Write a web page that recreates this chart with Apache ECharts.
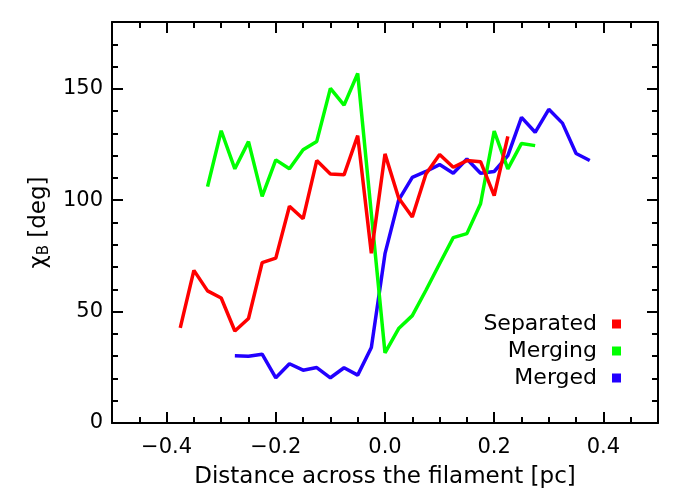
<!DOCTYPE html>
<html lang="en">
<head>
    <meta charset="UTF-8">
    <title>Field angle across the filament</title>
    <script type="text/javascript" src="https://cdnjs.cloudflare.com/ajax/libs/echarts/6.0.0/echarts.min.js"></script>
</head>
<body style="margin: 0">
    <div id="main" style="width: 700px; height: 500px"></div>
    <script>
        // distance across the filament [pc] and chi_B [deg] per case
        var sepX = [-0.375, -0.35, -0.325, -0.3, -0.275, -0.25, -0.225, -0.2, -0.175, -0.15, -0.125, -0.1, -0.075,
            -0.05, -0.025, 0.0, 0.025, 0.05, 0.075, 0.1, 0.125, 0.15, 0.175, 0.2, 0.225];
        var sepY = [42.7, 68.5, 59.3, 56.1, 41.3, 46.9, 72.0, 74.0, 97.3, 91.7, 117.8, 111.8, 111.4,
            129.0, 76.2, 120.8, 101.0, 92.5, 111.8, 120.5, 114.8, 117.8, 117.3, 102.1, 128.7];

        var mrgX = [-0.325, -0.3, -0.275, -0.25, -0.225, -0.2, -0.175, -0.15, -0.125, -0.1, -0.075, -0.05, -0.025,
            0.0, 0.025, 0.05, 0.075, 0.1, 0.125, 0.15, 0.175, 0.2, 0.225, 0.25, 0.275];
        var mrgY = [106.1, 131.2, 114.1, 126.3, 101.7, 118.1, 114.1, 122.7, 126.4, 150.2, 142.7, 156.9, 94.0,
            31.5, 42.4, 48.2, 59.6, 71.5, 83.2, 85.0, 98.4, 131.0, 114.1, 125.5, 124.5];

        var mgdX = [-0.275, -0.25, -0.225, -0.2, -0.175, -0.15, -0.125, -0.1, -0.075, -0.05, -0.025, 0.0, 0.025,
            0.05, 0.075, 0.1, 0.125, 0.15, 0.175, 0.2, 0.225, 0.25, 0.275, 0.3, 0.325, 0.35, 0.375];
        var mgdY = [30.2, 30.0, 30.9, 20.3, 26.6, 23.7, 24.9, 20.3, 24.8, 21.5, 33.9, 76.0, 100.0,
            110.3, 112.9, 116.0, 112.1, 118.5, 112.1, 112.9, 120.0, 137.2, 130.5, 140.8, 134.6, 121.0, 117.8];

        var xMajor = [-0.4, -0.2, 0, 0.2, 0.4];
        var yMajor = [0, 50, 100, 150];

        function pairs(xs, ys) {
            return xs.map(function (x, i) { return [x, ys[i]]; });
        }

        var font = 'DejaVu Sans';
        var black = '#000';
        var gridBox = {left: 112, right: 42, top: 22, bottom: 77};

        function xAx(grid, pos, major, labels) {
            return {
                type: 'value', gridIndex: grid, position: pos,
                min: -0.5, max: 0.5, interval: 0.05,
                axisLine: {show: !major, onZero: false, lineStyle: {color: black, width: 2}},
                axisTick: major
                    ? {show: true, inside: true, length: 11, customValues: xMajor, lineStyle: {color: black, width: 2}}
                    : {show: true, inside: true, length: 6, lineStyle: {color: black, width: 2}},
                axisLabel: labels ? {
                    show: true, customValues: xMajor, margin: 14,
                    color: black, fontFamily: font, fontSize: 21,
                    formatter: function (v) { return (v < 0 ? '\u2212' : '') + Math.abs(v).toFixed(1); }
                } : {show: false},
                splitLine: {show: false},
                name: labels ? 'Distance across the filament [pc]' : '',
                nameLocation: 'middle', nameGap: 43,
                nameTextStyle: {color: black, fontFamily: font, fontSize: 23}
            };
        }

        function yAx(grid, pos, major, labels) {
            return {
                type: 'value', gridIndex: grid, position: pos,
                min: 0, max: 180, interval: 10,
                axisLine: {show: !major, onZero: false, lineStyle: {color: black, width: 2}},
                axisTick: major
                    ? {show: true, inside: true, length: 11, customValues: yMajor, lineStyle: {color: black, width: 2}}
                    : {show: true, inside: true, length: 6, lineStyle: {color: black, width: 2}},
                axisLabel: labels ? {
                    show: true, customValues: yMajor, margin: 9,
                    color: black, fontFamily: font, fontSize: 21
                } : {show: false},
                splitLine: {show: false},
                name: labels ? '{a|\u03c7}{b|B} {a|[deg]}' : '',
                nameLocation: 'middle', nameGap: 60,
                nameTextStyle: {
                    color: black, fontFamily: font, fontSize: 23,
                    rich: {
                        a: {fontFamily: font, fontSize: 23, color: black},
                        b: {fontFamily: font, fontSize: 15, color: black, padding: [10, 0, 0, 0]}
                    }
                }
            };
        }

        function legendAt(name, top) {
            return {
                data: [name], right: 79, top: top, align: 'right', padding: 0,
                icon: 'rect', itemWidth: 9, itemHeight: 9,
                selectedMode: false,
                textStyle: {color: black, fontFamily: font, fontSize: 22, padding: [0, 10, 0, 0]}
            };
        }

        var myChart = echarts.init(document.getElementById('main'));
        myChart.setOption({
            animation: false,
            grid: [gridBox, gridBox],
            legend: [
                legendAt('Separated', 313),
                legendAt('Merging', 340),
                legendAt('Merged', 367)
            ],
            xAxis: [
                xAx(0, 'bottom', false, true),
                xAx(0, 'top', false, false),
                xAx(1, 'bottom', true, false),
                xAx(1, 'top', true, false)
            ],
            yAxis: [
                yAx(0, 'left', false, true),
                yAx(0, 'right', false, false),
                yAx(1, 'left', true, false),
                yAx(1, 'right', true, false)
            ],
            series: [
                {
                    name: 'Merged', type: 'line', data: pairs(mgdX, mgdY),
                    showSymbol: false, color: '#2200ff', lineStyle: {width: 3.5, color: '#2200ff'}
                },
                {
                    name: 'Merging', type: 'line', data: pairs(mrgX, mrgY),
                    showSymbol: false, color: '#00ff00', lineStyle: {width: 3.5, color: '#00ff00'}
                },
                {
                    name: 'Separated', type: 'line', data: pairs(sepX, sepY),
                    showSymbol: false, color: '#ff0000', lineStyle: {width: 3.5, color: '#ff0000'}
                }
            ]
        });
    </script>
</body>
</html>
